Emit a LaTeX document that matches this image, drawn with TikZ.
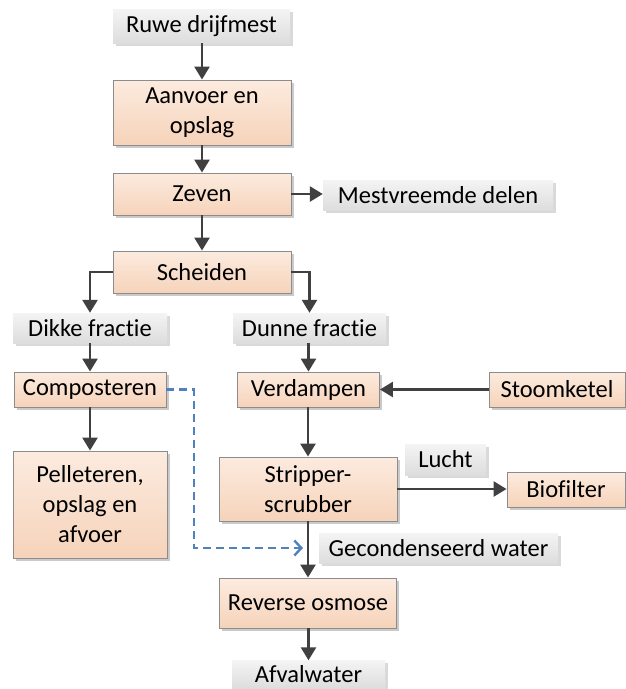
\documentclass[tikz,border=0pt]{standalone}
\usepackage{fontspec}
\setmainfont{Carlito}[Ligatures=NoCommon]
\usetikzlibrary{arrows.meta,shadows}
\definecolor{arrowc}{HTML}{404040}
\definecolor{boxline}{HTML}{8C8C8C}
\definecolor{peachtop}{HTML}{FCEBDF}
\definecolor{peachbot}{HTML}{F6D3BA}
\definecolor{greytop}{HTML}{F4F4F4}
\definecolor{greybot}{HTML}{DDDDDD}
\definecolor{dashblue}{HTML}{4F81BD}
\tikzset{
  box/.style={draw=boxline, line width=0.9pt, top color=peachtop, bottom color=peachbot,
    align=center, inner sep=0pt, font=\fontsize{24.5}{30}\selectfont,
    drop shadow={shadow xshift=2.5pt, shadow yshift=-2.5pt, opacity=0.35, fill=black!60}},
  lbl/.style={draw=none, top color=greytop, bottom color=greybot,
    align=center, inner sep=0pt, font=\fontsize{24.5}{30}\selectfont,
    drop shadow={shadow xshift=2.5pt, shadow yshift=-2.5pt, opacity=0.3, fill=black!50}},
  flow/.style={draw=arrowc, line width=2.6pt, -{Triangle[length=13pt,width=15pt]}},
  dashflow/.style={draw=dashblue, line width=2.4pt, dash pattern=on 8pt off 5pt,
    -{Straight Barb[length=7pt,width=15pt,line width=2.4pt]}}
}
\begin{document}
\begin{tikzpicture}[x=1pt,y=-1pt]
\useasboundingbox (0,0) rectangle (626,689);
% nodes
\node[lbl, minimum width=177pt, minimum height=34pt] (ruwe) at (201.5,26) {Ruwe drijfmest};
\node[box, minimum width=178pt, minimum height=65pt] (aanvoer) at (202,112.5) {Aanvoer en\\opslag};
\node[box, minimum width=178pt, minimum height=42pt] (zeven) at (202,194) {Zeven};
\node[lbl, minimum width=230pt, minimum height=30pt] (mest) at (438,195) {Mestvreemde delen};
\node[box, minimum width=178pt, minimum height=42pt] (scheiden) at (202,272) {Scheiden};
\node[lbl, minimum width=154pt, minimum height=30pt] (dikke) at (90,328) {Dikke fractie};
\node[lbl, minimum width=153pt, minimum height=30pt] (dunne) at (309.5,328) {Dunne fractie};
\node[box, minimum width=152pt, minimum height=35pt] (comp) at (90,389.5) {Composteren};
\node[box, minimum width=142pt, minimum height=35pt] (verd) at (308.5,389.5) {Verdampen};
\node[box, minimum width=136pt, minimum height=35pt] (stoom) at (557,389.5) {Stoomketel};
\node[box, minimum width=154pt, minimum height=107pt] (pel) at (90,504.5) {Pelleteren,\\opslag en\\afvoer};
\node[box, minimum width=178pt, minimum height=64pt] (strip) at (308,489) {Stripper-\\scrubber};
\node[lbl, minimum width=81pt, minimum height=31pt] (lucht) at (445.5,459.5) {Lucht};
\node[box, minimum width=118pt, minimum height=35pt] (bio) at (566,489.5) {Biofilter};
\node[lbl, minimum width=239pt, minimum height=30pt] (gecond) at (438.5,548) {Gecondenseerd water};
\node[box, minimum width=177pt, minimum height=50pt] (rev) at (308,603) {Reverse osmose};
\node[lbl, minimum width=153pt, minimum height=28pt] (afval) at (308.5,674.5) {Afvalwater};
% connectors
\draw[flow] (ruwe.south -| aanvoer.north) -- (aanvoer.north);
\draw[flow] (aanvoer.south) -- (zeven.north);
\draw[flow] (zeven.south) -- (scheiden.north);
\draw[flow] (zeven.east) -- (zeven.east -| mest.west);
\draw[flow] (scheiden.west) -| (dikke.north);
\draw[flow] (scheiden.east) -| (dunne.north);
\draw[flow] (dikke.south) -- (comp.north);
\draw[flow] (comp.south) -- (pel.north);
\draw[flow] (dunne.south -| verd.north) -- (verd.north);
\draw[flow] (stoom.west) -- (verd.east);
\draw[flow] (verd.south -| strip.north) -- (strip.north);
\draw[flow] (strip.east) -- (strip.east -| bio.west);
\draw[flow] (strip.south) -- (strip.south |- rev.north);
\draw[flow] (rev.south -| afval.north) -- (afval.north);
\coordinate (dk) at (194,548);
\coordinate (dend) at (303,548);
\draw[dashflow] (comp.east) -| (dk) -- (dend);
\end{tikzpicture}
\end{document}
